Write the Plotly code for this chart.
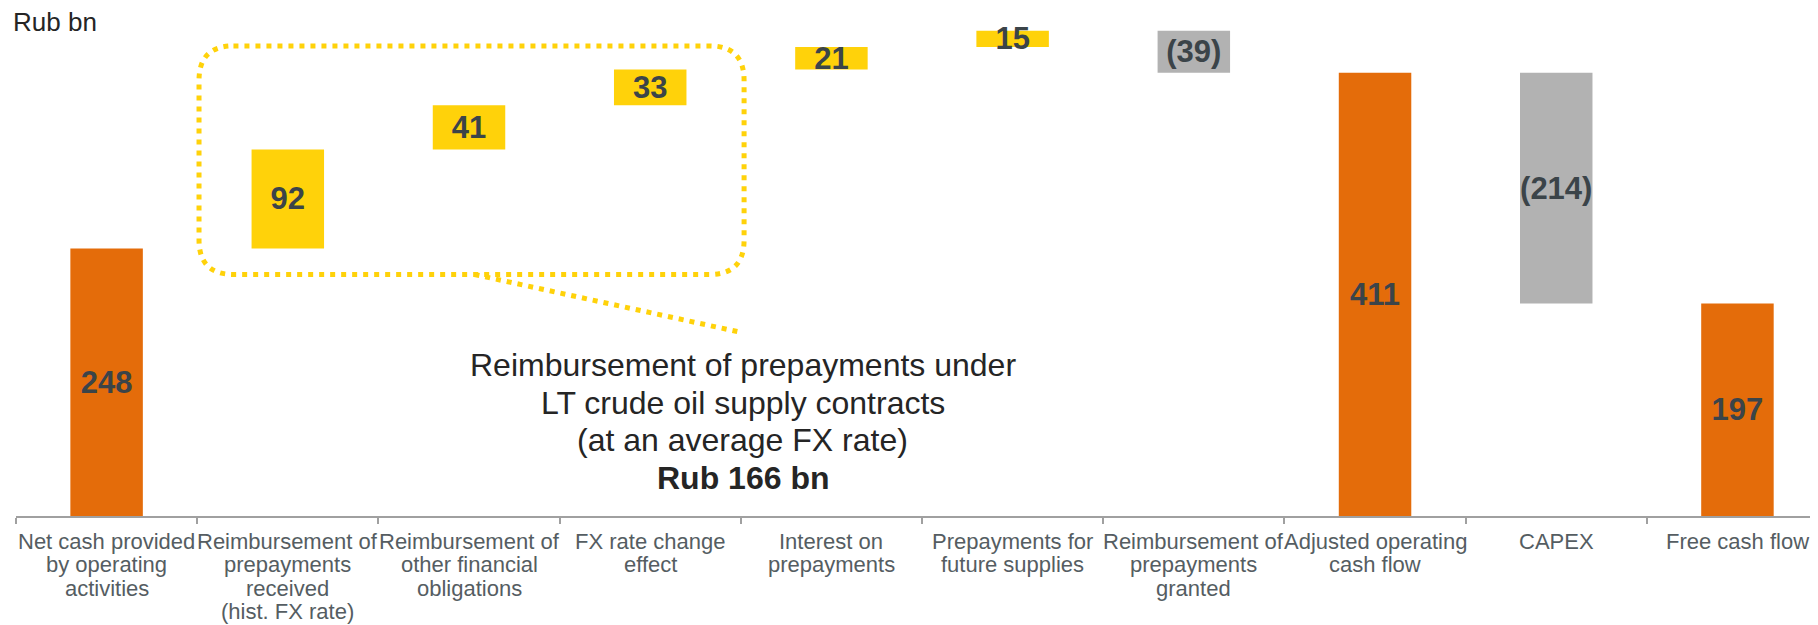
import plotly.graph_objects as go

# ---- data ----
categories = [
    "Net cash provided<br>by operating<br>activities",
    "Reimbursement of<br>prepayments<br>received<br>(hist. FX rate)",
    "Reimbursement of<br>other financial<br>obligations",
    "FX rate change<br>effect",
    "Interest on<br>prepayments",
    "Prepayments for<br>future supplies",
    "Reimbursement of<br>prepayments<br>granted",
    "Adjusted operating<br>cash flow",
    "CAPEX",
    "Free cash flow",
]
values = [248, 92, 41, 33, 21, 15, -39, 411, -214, 197]
measures = ["absolute", "relative", "relative", "relative", "relative",
            "relative", "relative", "total", "relative", "total"]
unit_label = "Rub bn"
note_lines = ["Reimbursement of prepayments under", "LT crude oil supply contracts",
              "(at an average FX rate)"]
note_total = "Rub 166 bn"

ORANGE = "#E46C0A"
YELLOW = "#FFD20A"
GREY = "#B2B2B2"
TEXT_DARK = "#3B4449"
TICK_TEXT = "#555D62"
FONT = "Arial, Liberation Sans, sans-serif"

# ---- waterfall geometry derived from data ----
bases, heights, colors, labels = [], [], [], []
running = 0
for v, m in zip(values, measures):
    if m in ("absolute", "total"):
        bases.append(0)
        heights.append(v)
        colors.append(ORANGE)
        running = v
    else:
        bases.append(min(running, running + v))
        heights.append(abs(v))
        colors.append(YELLOW if v >= 0 else GREY)
        running += v
    labels.append("<b>%s</b>" % (str(v) if v >= 0 else "(%d)" % abs(v)))

fig = go.Figure()
fig.add_trace(go.Bar(
    x=categories, y=heights, base=bases,
    marker=dict(color=colors, line=dict(width=0)),
    width=0.4,
    text=labels, textposition="inside", insidetextanchor="middle",
    constraintext="none",
    textfont=dict(family=FONT, size=31, color=TEXT_DARK),
    textangle=0,
    hoverinfo="skip",
))

# category labels, one annotation per line for tight line spacing
for cat in categories:
    for i, line in enumerate(cat.split("<br>")):
        fig.add_annotation(
            x=cat, y=0, xref="x", yref="paper", yanchor="middle",
            yshift=-25 - 23.5 * i, showarrow=False, text=line, borderpad=0,
            font=dict(family=FONT, size=22, color=TICK_TEXT),
        )

# dotted rounded box around the prepayment-related bars (categories 1..3)
x0, x1 = 0.51, 3.518
y0 = bases[1] - 24
y1 = bases[3] + heights[3] + 22
rx, ry = 0.19, 32
path = (f"M {x0+rx},{y1} L {x1-rx},{y1} Q {x1},{y1} {x1},{y1-ry} "
        f"L {x1},{y0+ry} Q {x1},{y0} {x1-rx},{y0} L {x0+rx},{y0} "
        f"Q {x0},{y0} {x0},{y0+ry} L {x0},{y1-ry} Q {x0},{y1} {x0+rx},{y1} Z")
dot = dict(color=YELLOW, width=5, dash="5px,6px")
fig.add_shape(type="path", path=path, xref="x", yref="y", line=dot, layer="above")
fig.add_shape(type="line", x0=2.03, y0=y0, x1=3.51, y1=170, xref="x", yref="y", line=dot)

# note text, one annotation per line
note_all = note_lines + ["<b>" + note_total + "</b>"]
for i, line in enumerate(note_all):
    fig.add_annotation(
        x=3.51, y=140, xref="x", yref="y", yanchor="middle", yshift=-37.5 * i,
        showarrow=False, text=line,
        font=dict(family=FONT, size=32, color="#252525"),
    )

fig.add_annotation(
    x=0, y=1, xref="paper", yref="paper", xanchor="left", yanchor="middle",
    xshift=-5, yshift=-2, showarrow=False, text=unit_label,
    font=dict(family=FONT, size=26, color="#252525"),
)

fig.update_layout(
    width=1810, height=617,
    margin=dict(l=8, r=3, t=12, b=109, autoexpand=False),
    paper_bgcolor="white", plot_bgcolor="white",
    showlegend=False, bargap=0.6,
    font=dict(family=FONT),
)
fig.update_xaxes(
    type="category", range=[-0.5, 9.428], tickson="boundaries", ticks="outside", ticklen=6,
    showticklabels=False, automargin=False,
    tickcolor="#A0A0A0", tickwidth=2, showline=True, linecolor="#A0A0A0", linewidth=2,
    showgrid=False, zeroline=False,
)
fig.update_yaxes(range=[0, 460], visible=False, showgrid=False, zeroline=False)

fig.write_html("out.html")
